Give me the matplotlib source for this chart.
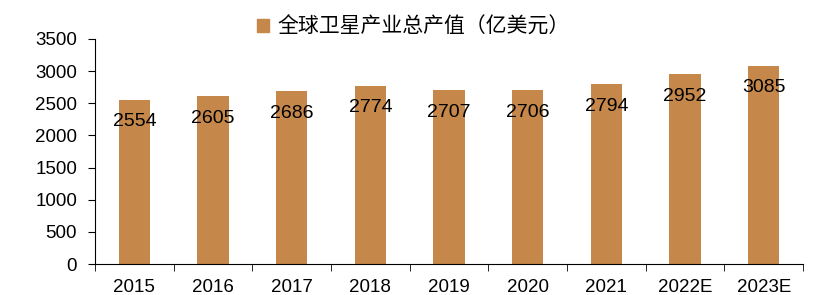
import numpy as np
import matplotlib.pyplot as plt
from matplotlib.patches import Patch

years = ["2015", "2016", "2017", "2018", "2019", "2020", "2021", "2022E", "2023E"]
values = [2554, 2605, 2686, 2774, 2707, 2706, 2794, 2952, 3085]
yticks = [0, 500, 1000, 1500, 2000, 2500, 3000, 3500]

plt.rcParams['font.family'] = ['Liberation Sans', 'DejaVu Sans']
color = "#C5874A"

fig = plt.figure(figsize=(8.27, 2.95), dpi=100)
ax = fig.add_axes([0.115, 0.105, 0.856, 0.763])

x = np.arange(len(years))
ax.bar(x, values, width=0.4, color=color)
for xi, v in zip(x, values):
    ax.annotate(str(v), (xi, v), xytext=(0, -16), textcoords="offset points",
                ha="center", va="center", fontsize=14, color="black")

ax.set_xlim(-0.5, len(years) - 0.5)
ax.set_ylim(0, 3500)
ax.set_yticks(yticks)
ax.set_yticklabels([str(t) for t in yticks], fontsize=13.5)
ax.set_xticks(x)
ax.set_xticklabels(years, fontsize=13.5)
ax.set_xticks(np.arange(-0.5, len(years)), minor=True)
ax.tick_params(axis="x", which="major", length=0, pad=11)
ax.tick_params(axis="x", which="minor", length=5, direction="out")
ax.tick_params(axis="y", length=5, direction="out", pad=8)
for s in ["top", "right"]:
    ax.spines[s].set_visible(False)

handle = Patch(color=color)
fig.legend([handle], ["全球卫星产业总产值（亿美元）"], loc="upper center",
           bbox_to_anchor=(0.5, 1.01), frameon=False, handlelength=0.6,
           handleheight=0.6, handletextpad=0.4,
           prop={"family": ["Noto Sans CJK SC", "DejaVu Sans"], "size": 15})

fig.savefig("out.png", dpi=100)
